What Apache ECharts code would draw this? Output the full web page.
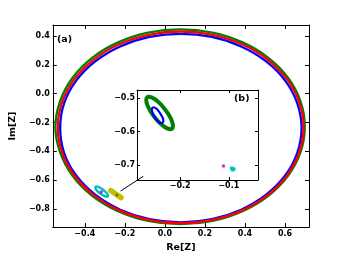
<!DOCTYPE html>
<html><head><meta charset="utf-8">
<script src="https://cdn.jsdelivr.net/npm/echarts@6/dist/echarts.min.js"></script>
<style>html,body{margin:0;padding:0;background:#fff}#c{width:344px;height:258px}</style>
</head><body><div id="c"></div>
<script>
// ---- data ----
const greenMain = [[0.699,-0.230],[0.678,-0.055],[0.616,0.109],[0.517,0.249],[0.388,0.356],[0.238,0.424],[0.077,0.447],[-0.084,0.424],[-0.234,0.356],[-0.363,0.249],[-0.462,0.109],[-0.524,-0.055],[-0.547,-0.230],[-0.524,-0.405],[-0.462,-0.569],[-0.363,-0.709],[-0.234,-0.816],[-0.084,-0.884],[0.077,-0.907],[0.238,-0.884],[0.388,-0.816],[0.517,-0.709],[0.616,-0.569],[0.678,-0.405]];
const redMain = [[0.693,-0.234],[0.672,-0.062],[0.611,0.099],[0.513,0.237],[0.386,0.343],[0.238,0.409],[0.079,0.432],[-0.080,0.409],[-0.228,0.343],[-0.355,0.237],[-0.453,0.099],[-0.514,-0.062],[-0.535,-0.234],[-0.514,-0.406],[-0.453,-0.567],[-0.355,-0.705],[-0.228,-0.811],[-0.080,-0.877],[0.079,-0.900],[0.238,-0.877],[0.386,-0.811],[0.513,-0.705],[0.611,-0.567],[0.672,-0.406]];
const blueMain = [[0.683,-0.239],[0.662,-0.069],[0.602,0.089],[0.506,0.224],[0.381,0.328],[0.235,0.394],[0.079,0.416],[-0.077,0.394],[-0.223,0.328],[-0.348,0.224],[-0.444,0.089],[-0.504,-0.069],[-0.523,-0.239],[-0.504,-0.409],[-0.444,-0.567],[-0.348,-0.702],[-0.223,-0.806],[-0.077,-0.872],[0.079,-0.894],[0.235,-0.872],[0.381,-0.806],[0.506,-0.702],[0.602,-0.567],[0.662,-0.409]];
const cyanMain = [[-0.285,-0.713],[-0.289,-0.694],[-0.309,-0.667],[-0.333,-0.648],[-0.347,-0.648],[-0.343,-0.667],[-0.323,-0.694],[-0.300,-0.713]];
const yellowMain = [[-0.270,-0.673],[-0.245,-0.698],[-0.219,-0.722]];
const magentaMain = [[-0.318,-0.684]];
const blackMain = [[-0.240,-0.701]];
const greenInset = [[-0.217,-0.591],[-0.215,-0.583],[-0.217,-0.569],[-0.223,-0.551],[-0.232,-0.532],[-0.242,-0.515],[-0.253,-0.502],[-0.262,-0.496],[-0.268,-0.497],[-0.270,-0.505],[-0.268,-0.519],[-0.262,-0.537],[-0.253,-0.556],[-0.243,-0.573],[-0.232,-0.586],[-0.223,-0.592]];
const blueInset = [[-0.237,-0.574],[-0.235,-0.563],[-0.241,-0.546],[-0.249,-0.531],[-0.257,-0.528],[-0.258,-0.539],[-0.253,-0.557],[-0.244,-0.571]];
const magentaInset = [[-0.111,-0.703]];
const cyanInset = [[-0.094,-0.711],[-0.091,-0.714],[-0.089,-0.712],[-0.093,-0.715],[-0.095,-0.709],[-0.091,-0.710]];
const arrowFrom = [-0.108,-0.574];
const arrowTo = [-0.221,-0.676];
const mainXTicks = [-0.4,-0.2,0.0,0.2,0.4,0.6];
const mainYTicks = [-0.8,-0.6,-0.4,-0.2,0.0,0.2,0.4];
const insetXTicks = [-0.2,-0.1];
const insetYTicks = [-0.7,-0.6,-0.5];

const fmt = v => (v < -1e-9 ? '\u2212' : '') + Math.abs(v).toFixed(1);
const lab = {fontFamily:'DejaVu Sans', fontWeight:'bold', fontSize:8, color:'#000'};
function ax(o, ticks, showLabel, margin, tlen){
  return Object.assign({
    type:'value', scale:true, splitLine:{show:false},
    axisLine:{show:true, onZero:false, lineStyle:{color:'#000', width:1}},
    axisTick:{show:true, inside:true, length:tlen, customValues:ticks, lineStyle:{color:'#000'}},
    axisLabel:Object.assign({show:showLabel, customValues:ticks, formatter:fmt, margin:margin}, lab)
  }, o);
}
const nameStyle = {fontFamily:'DejaVu Sans', fontWeight:'bold', fontSize:9.5, color:'#000'};
const chart = echarts.init(document.getElementById('c'), null, {renderer:'canvas'});
// closed smooth curve through the given points, positioned by the axes
function ring(pts, color, w, xi, yi, z){
  return {type:'custom', xAxisIndex:xi, yAxisIndex:yi, data:[pts[0]], silent:true, z:z||2, clip:false,
    renderItem:(p, api) => ({type:'polygon',
      shape:{points: pts.map(d => api.coord(d)), smooth:0.4},
      style:{fill:'none', stroke:color, lineWidth:w}})};
}
chart.setOption({
  animation:false,
  grid:[
    {left:43, top:25, right:35, bottom:26, show:false},
    {left:137, top:90, width:121, height:90, show:true, backgroundColor:'#fff', borderWidth:0, z:5}
  ],
  xAxis:[
    ax({gridIndex:0, min:-0.56, max:0.72, position:'bottom', name:'Re[Z]', nameLocation:'middle', nameGap:15, nameTextStyle:nameStyle}, mainXTicks, true, 3, 4),
    ax({gridIndex:0, min:-0.56, max:0.72, position:'top'}, mainXTicks, false, 3, 4),
    ax({gridIndex:1, min:-0.289, max:-0.04, position:'bottom', z:6}, insetXTicks, true, 2, 3),
    ax({gridIndex:1, min:-0.289, max:-0.04, position:'top', z:6}, insetXTicks, false, 2, 3)
  ],
  yAxis:[
    ax({gridIndex:0, min:-0.927, max:0.477, position:'left', name:'Im[Z]', nameLocation:'middle', nameGap:33, nameTextStyle:nameStyle}, mainYTicks, true, 3, 4),
    ax({gridIndex:0, min:-0.927, max:0.477, position:'right'}, mainYTicks, false, 3, 4),
    ax({gridIndex:1, min:-0.745, max:-0.475, position:'left', z:6}, insetYTicks, true, 2, 3),
    ax({gridIndex:1, min:-0.745, max:-0.475, position:'right', z:6}, insetYTicks, false, 2, 3)
  ],
  series:[
    ring(greenMain, '#008000', 2.3, 0, 0, 2),
    ring(blueMain, '#0000ff', 2.3, 0, 0, 2),
    ring(redMain, '#ff0000', 2.3, 0, 0, 2),
    ring(cyanMain, '#00bfbf', 2.5, 0, 0, 2),
    {type:'line', data:yellowMain, xAxisIndex:0, yAxisIndex:0, symbol:'none', silent:true,
      lineStyle:{color:'#bfbf00', width:5.5, cap:'round'},
      markLine:{silent:true, symbol:['none','arrow'], symbolSize:[0,7], label:{show:false},
        lineStyle:{color:'#000', width:1, type:'solid'},
        data:[[{coord:arrowFrom},{coord:arrowTo}]]}},
    {type:'scatter', data:magentaMain, xAxisIndex:0, yAxisIndex:0, symbolSize:3.5, itemStyle:{color:'#bf00bf'}, silent:true, z:4},
    {type:'scatter', data:blackMain, xAxisIndex:0, yAxisIndex:0, symbol:'triangle', symbolSize:3, itemStyle:{color:'#333'}, silent:true, z:4},
    ring(greenInset, '#008000', 4, 2, 2, 7),
    ring(blueInset, '#0000ff', 2.2, 2, 2, 8),
    {type:'scatter', data:magentaInset, xAxisIndex:2, yAxisIndex:2, symbolSize:3.5, itemStyle:{color:'#bf00bf'}, silent:true, z:8},
    {type:'scatter', data:cyanInset, xAxisIndex:2, yAxisIndex:2, symbolSize:3.5, itemStyle:{color:'#00bfbf'}, silent:true, z:8}
  ],
  graphic:[
    {type:'text', left:57, top:35, z:20, style:{text:'(a)', font:'bold 9.5px "DejaVu Sans"', fill:'#000'}},
    {type:'text', left:234, top:94, z:20, style:{text:'(b)', font:'bold 9.5px "DejaVu Sans"', fill:'#000'}}
  ]
});
</script></body></html>
